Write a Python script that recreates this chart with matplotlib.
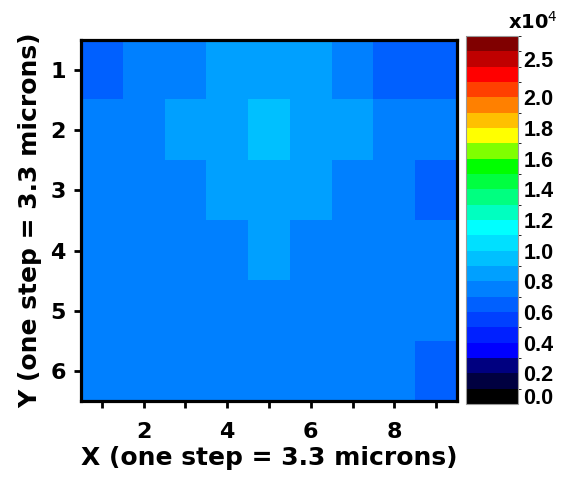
import numpy as np
import matplotlib
matplotlib.use('Agg')
import matplotlib.pyplot as plt
from matplotlib.colors import ListedColormap, BoundaryNorm

# intensity map, units of 1e4 counts (rows = Y 1..6, cols = X 1..9)
row1 = [0.66, 0.75, 0.74, 0.85, 0.86, 0.84, 0.76, 0.65, 0.66]
row2 = [0.74, 0.75, 0.83, 0.84, 0.93, 0.84, 0.82, 0.76, 0.75]
row3 = [0.73, 0.74, 0.75, 0.82, 0.84, 0.83, 0.76, 0.74, 0.67]
row4 = [0.72, 0.74, 0.75, 0.76, 0.81, 0.77, 0.76, 0.75, 0.74]
row5 = [0.73, 0.74, 0.75, 0.76, 0.77, 0.76, 0.75, 0.74, 0.73]
row6 = [0.72, 0.73, 0.74, 0.75, 0.76, 0.75, 0.74, 0.73, 0.68]
x_steps = [1, 2, 3, 4, 5, 6, 7, 8, 9]
y_steps = [1, 2, 3, 4, 5, 6]
x_ticklabels = ['', '2', '', '4', '', '6', '', '8', '']

# colour levels (bottom to top) and their boundaries
level_colors = ['#000000', '#000040', '#000080', '#0000FF', '#0020FF', '#0040FF',
                '#0060FF', '#0080FF', '#00A0FF', '#00C0FF', '#00E0FF', '#00FFFF',
                '#00FFC0', '#00FF80', '#00FF40', '#00FF00', '#80FF00', '#FFFF00',
                '#FFC000', '#FF8000', '#FF4000', '#FF0000', '#C00000', '#800000']
levels = [0.0, 0.1, 0.2, 0.3, 0.4, 0.5, 0.6, 0.7, 0.8, 0.9, 1.0, 1.1, 1.2,
          1.3, 1.4, 1.5, 1.6, 1.7, 1.8, 1.9, 2.0, 2.2, 2.4, 2.6, 2.8]
cbar_ticks = [0.0, 0.2, 0.4, 0.6, 0.8, 1.0, 1.2, 1.4, 1.6, 1.8, 2.0, 2.5]

z = np.array([row1, row2, row3, row4, row5, row6])
cmap = ListedColormap(level_colors)
norm = BoundaryNorm(levels, cmap.N)

main_font = 'DejaVu Sans'
bar_font = 'Liberation Sans'

fig = plt.figure(figsize=(5.61, 4.79), dpi=100)
ax = fig.add_axes([0.1444, 0.1628, 0.6702, 0.7537])
img = ax.imshow(z, cmap=cmap, norm=norm, aspect='auto', interpolation='nearest',
                extent=(x_steps[0] - 0.5, x_steps[-1] + 0.5, y_steps[-1] + 0.5, y_steps[0] - 0.5))

ax.set_xticks(x_steps)
ax.set_xticklabels(x_ticklabels)
ax.set_yticks(y_steps)
ax.set_yticklabels([str(v) for v in y_steps])
ax.tick_params(direction='out', length=5, width=2)
ax.tick_params(axis='x', pad=10)
ax.tick_params(axis='y', pad=6)
for lab in ax.get_xticklabels() + ax.get_yticklabels():
    lab.set_fontfamily(main_font)
    lab.set_fontweight('bold')
    lab.set_fontsize(16)
for sp in ax.spines.values():
    sp.set_linewidth(2.3)

ax.set_xlabel('X (one step = 3.3 microns)', fontfamily=main_font, fontweight='bold',
              fontsize=18, labelpad=3)
ax.set_ylabel('Y (one step = 3.3 microns)', fontfamily=main_font, fontweight='bold',
              fontsize=18, labelpad=6)

cax = fig.add_axes([0.8307, 0.1566, 0.0927, 0.7683])
cb = fig.colorbar(img, cax=cax, spacing='uniform', ticks=cbar_ticks)
cb.outline.set_edgecolor('#999999')
cb.outline.set_linewidth(0.8)
cax.tick_params(length=0, pad=4)
cax.set_yticklabels(['%.1f' % t for t in cbar_ticks])
for lab in cax.get_yticklabels():
    lab.set_fontfamily(bar_font)
    lab.set_fontweight('bold')
    lab.set_fontsize(15.5)
cax.get_yticklabels()[0].set_verticalalignment('baseline')

fig.text(0.995, 0.954, r'x10$^4$', ha='right', va='center', fontfamily=main_font,
         fontweight='bold', fontsize=14)

fig.savefig('out.png', dpi=100)
